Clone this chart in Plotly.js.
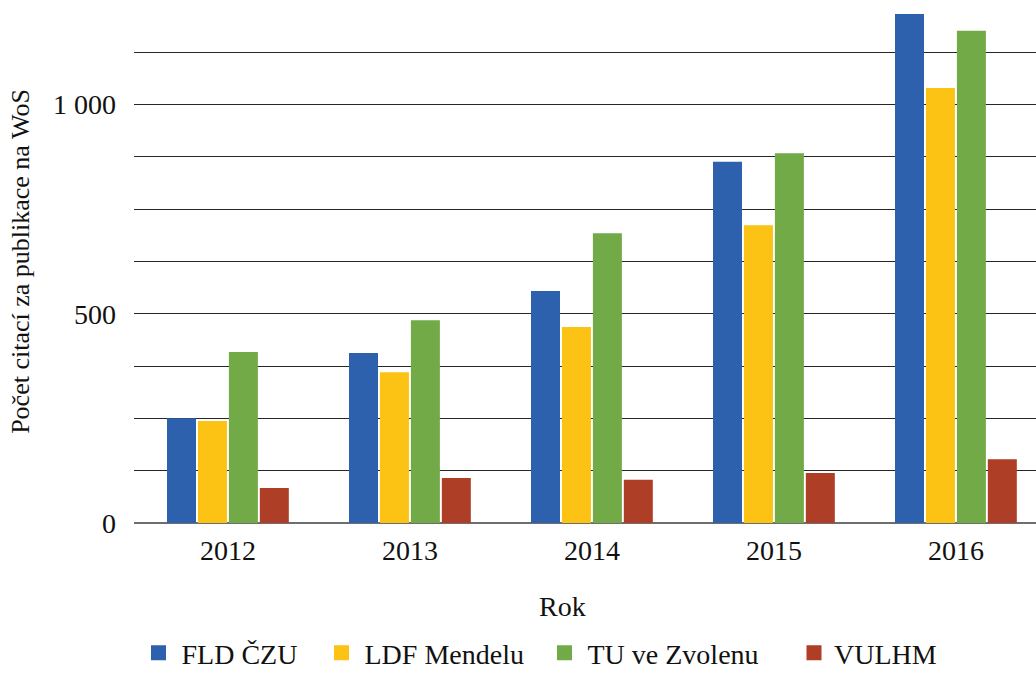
<!DOCTYPE html>
<html>
<head>
<meta charset="utf-8">
<script src="https://cdn.plot.ly/plotly-3.0.1.min.js"></script>
<style>html,body{margin:0;padding:0;background:#fff;}#chart{width:1036px;height:678px;}</style>
</head>
<body>
<div id="chart"></div>
<script>
const years = ['2012', '2013', '2014', '2015', '2016'];
const fldCzu = [247, 403, 551, 860, 1213];
const ldfMendelu = [240, 357, 465, 708, 1036];
const tuZvolen = [405, 481, 689, 880, 1173];
const vulhm = [80, 104, 100, 116, 149];

const seriesNames = ['FLD ČZU', 'LDF Mendelu', 'TU ve Zvolenu', 'VULHM'];
const seriesColors = ['#2E61AD', '#FCC214', '#72AA48', '#AF3E27'];
const seriesValues = [fldCzu, ldfMendelu, tuZvolen, vulhm];
const legendIds = ['legend', 'legend2', 'legend3', 'legend4'];

const FONT = 'Liberation Serif, serif';
const TEXT = '#111111';

const data = seriesValues.map((vals, i) => ({
  type: 'bar',
  name: seriesNames[i],
  x: years,
  y: vals,
  legend: legendIds[i],
  marker: {color: seriesColors[i], line: {width: 3, color: seriesColors[i]}},
  hoverinfo: 'x+y+name'
}));

const gridColor = '#262626';

function legendAt(xLeft, itemwidth) {
  return {
    orientation: 'h',
    xref: 'container', yref: 'container',
    x: xLeft / 1036, y: 0,
    xanchor: 'left', yanchor: 'bottom',
    itemwidth: itemwidth,
    font: {family: FONT, size: 28, color: TEXT},
    bgcolor: 'rgba(0,0,0,0)',
    borderwidth: 0
  };
}

const layout = {
  width: 1036,
  height: 678,
  margin: {l: 134, r: 0, t: 0, b: 155, pad: 0},
  paper_bgcolor: '#ffffff',
  plot_bgcolor: '#ffffff',
  font: {family: FONT, size: 28, color: TEXT},
  separators: ', ',
  barmode: 'group',
  bargap: 0.32,
  bargroupgap: 0.16,
  showlegend: true,
  legend: legendAt(135.5, 36),
  legend2: legendAt(318.5, 36),
  legend3: legendAt(541.5, 36),
  legend4: legendAt(794, 30),
  xaxis: {
    type: 'category',
    range: [-0.516, 4.44],
    showgrid: false, showline: false, zeroline: false, ticks: '',
    tickfont: {family: FONT, size: 28, color: TEXT},
    ticklabelstandoff: 8
  },
  yaxis: {
    range: [0, 1250],
    tickmode: 'linear', tick0: 0, dtick: 500,
    separatethousands: true,
    showgrid: true, gridcolor: gridColor, gridwidth: 1,
    zeroline: true, zerolinecolor: '#6e6e6e', zerolinewidth: 2,
    showline: false, ticks: '',
    tickfont: {family: FONT, size: 28, color: TEXT},
    ticklabelstandoff: 17,
    minor: {tickmode: 'linear', tick0: 0, dtick: 125, showgrid: true, gridcolor: gridColor, gridwidth: 1, ticks: ''},
    title: {text: 'Počet citací za publikace na WoS', font: {family: FONT, size: 26, color: TEXT}, standoff: 15}
  },
  annotations: [{
    text: 'Rok', xref: 'paper', yref: 'paper',
    x: (562 - 134) / (1036 - 134), y: (523 - 606) / 523,
    xanchor: 'center', yanchor: 'middle', showarrow: false,
    font: {family: FONT, size: 28, color: TEXT}
  }]
};

Plotly.newPlot('chart', data, layout, {displayModeBar: false, responsive: false});
</script>
</body>
</html>
